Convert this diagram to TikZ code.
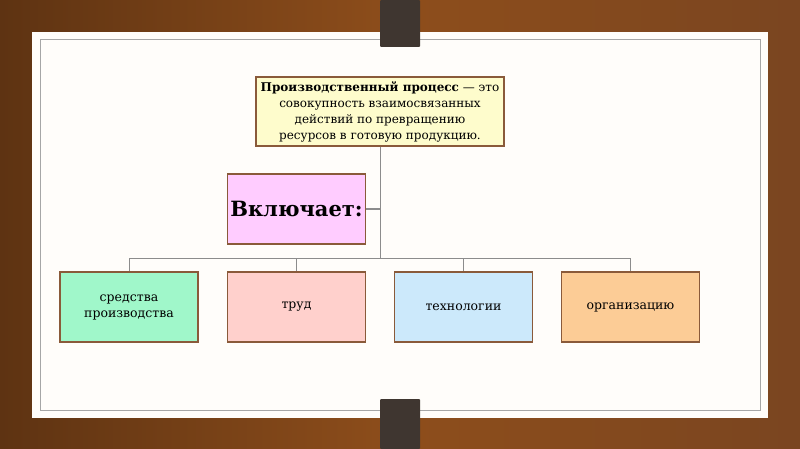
\documentclass[tikz,border=0pt]{standalone}
\usepackage{fontspec}
\setmainfont{DejaVu Serif}
\definecolor{wood}{HTML}{7A4520}
\definecolor{wooddark}{HTML}{5E3312}
\definecolor{paper}{HTML}{FFFDFA}
\definecolor{pinclr}{HTML}{3F3630}
\definecolor{edge}{HTML}{8A5A3A}
\definecolor{wire}{HTML}{8C8C8C}
\definecolor{cTop}{HTML}{FEFCCC}
\definecolor{cIncl}{HTML}{FFCCFF}
\definecolor{cOne}{HTML}{A0F7CA}
\definecolor{cTwo}{HTML}{FFD0CC}
\definecolor{cThree}{HTML}{CCE9FB}
\definecolor{cFour}{HTML}{FCCC96}
\begin{document}
\begin{tikzpicture}
	[
	x=1pt, y=-1pt,
	align=center,
	box/.style={draw=edge, line width=1.2pt, inner sep=0pt, font=\fontsize{12.5}{16}\selectfont},
	part/.style={box, minimum width=138pt, minimum height=70pt},
	wire/.style={draw=wire, line width=1pt}
	]
		% background
		\useasboundingbox (0,0) rectangle (800,449);
		\shade[left color=wooddark, right color=wood, middle color=wood!85!orange] (0,0) rectangle (800,449);
		\fill[paper] (32,32) rectangle (768,418);
		\draw[gray!70, line width=1pt] (40,40) rectangle (760,410);
		\fill[pinclr, rounded corners=1pt] (380,0) rectangle (420,47);
		\fill[pinclr, rounded corners=1pt] (380,399) rectangle (420,449);

		% level 1
		\node[box, fill=cTop, minimum width=248pt, minimum height=69pt, font=\fontsize{12}{16}\selectfont] (top) at (380,111.5)
			{\textbf{Производственный процесс} — это\\совокупность взаимосвязанных\\действий по превращению\\ресурсов в готовую продукцию.};

		% level 2
		\node[part, fill=cIncl, font=\fontsize{21}{26}\selectfont\bfseries] (incl) at (296.5,209) {Включает:};
		\coordinate (j) at (top.south |- 0,258);

		% level 3
		\node[part, fill=cOne] (b1) at (129,307) {средства\\производства};
		\node[part, fill=cTwo] (b2) at (296.5,307) {труд};
		\node[part, fill=cThree] (b3) at (463.5,307) {технологии};
		\node[part, fill=cFour] (b4) at (630.5,307) {организацию};

		% drawing code
		\draw[wire] (top.south) -- (j);
		\draw[wire] (incl.east) -- (top.south |- incl.east);
		\foreach \to in {b1,b2,b3,b4} \draw[wire] (j) -| (\to.north);
\end{tikzpicture}
\end{document}
